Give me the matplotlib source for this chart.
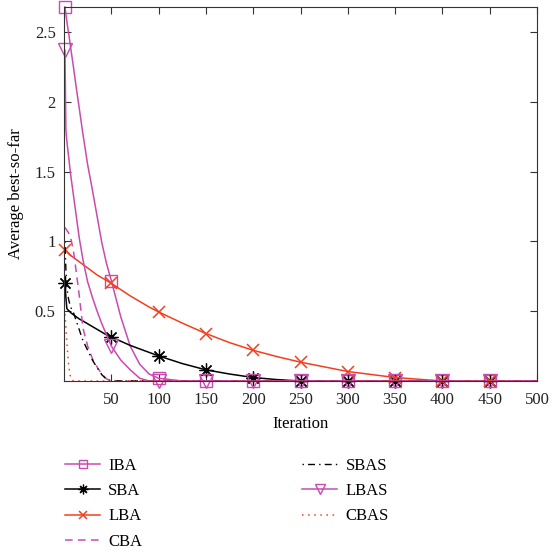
import matplotlib
matplotlib.use("Agg")
import matplotlib.pyplot as plt
import numpy as np

plt.rcParams['font.family'] = ['Liberation Serif', 'DejaVu Serif']
plt.rcParams['font.size'] = 12

# iteration grid shared by all curves
iters = [1, 2, 3, 4, 5, 7, 10, 13, 16, 20, 25, 30, 35, 40, 45, 50, 60, 70, 80, 90,
         100, 125, 150, 175, 200, 225, 250, 300, 350, 400, 450, 500]

iba = [2.68, 2.63, 2.58, 2.53, 2.49, 2.39, 2.25, 2.10, 1.96, 1.77, 1.55, 1.37, 1.18, 0.99,
       0.84, 0.72, 0.46, 0.25, 0.12, 0.05, 0.02, 0, 0, 0, 0, 0, 0, 0, 0, 0, 0, 0]
sba = [0.70, 0.60, 0.52, 0.51, 0.505, 0.49, 0.475, 0.46, 0.445, 0.43, 0.41, 0.39, 0.37,
       0.35, 0.33, 0.315, 0.285, 0.255, 0.23, 0.205, 0.18, 0.125, 0.08, 0.05, 0.025,
       0.01, 0, 0, 0, 0, 0, 0]
lba = [0.94, 0.935, 0.93, 0.92, 0.915, 0.90, 0.885, 0.87, 0.855, 0.835, 0.81, 0.785,
       0.76, 0.74, 0.72, 0.70, 0.655, 0.61, 0.57, 0.53, 0.495, 0.415, 0.34, 0.275,
       0.22, 0.175, 0.135, 0.068, 0.025, 0.0, 0, 0]
cba = [1.10, 1.09, 1.08, 1.07, 1.06, 1.03, 0.93, 0.78, 0.62, 0.38, 0.25, 0.16, 0.10,
       0.05, 0.015, 0, 0, 0, 0, 0, 0, 0, 0, 0, 0, 0, 0, 0, 0, 0, 0, 0]
sbas = [1.0, 0.80, 0.68, 0.62, 0.58, 0.53, 0.49, 0.43, 0.37, 0.29, 0.22, 0.15, 0.095,
        0.045, 0.012, 0, 0, 0, 0, 0, 0, 0, 0, 0, 0, 0, 0, 0, 0, 0, 0, 0]
lbas = [2.37, 1.80, 1.72, 1.66, 1.60, 1.48, 1.33, 1.18, 1.03, 0.87, 0.71, 0.60, 0.50,
        0.41, 0.33, 0.25, 0.15, 0.08, 0.02, 0, 0, 0, 0, 0, 0, 0, 0, 0, 0, 0, 0, 0]
cbas = [0.48, 0.38, 0.28, 0.19, 0.11, 0.02, 0, 0, 0, 0, 0, 0, 0, 0, 0, 0, 0, 0, 0, 0,
        0, 0, 0, 0, 0, 0, 0, 0, 0, 0, 0, 0]

marker_iters = [1, 50, 100, 150, 200, 250, 300, 350, 400, 450]
mark_idx = [iters.index(m) for m in marker_iters]

magenta = '#C84BB0'
red = '#F2401F'

fig = plt.figure(figsize=(5.52, 5.54), dpi=100)
ax = fig.add_axes([64 / 552, 173 / 554, 473 / 552, 374 / 554])

ax.plot(iters, iba, color=magenta, lw=1.1, marker='s', ms=8, mfc='none',
        markevery=mark_idx, clip_on=False, label='IBA')
ax.plot(iters, sba, color='black', lw=1.1, marker=(8, 2, 0), ms=10, mew=0.9,
        markevery=mark_idx, clip_on=False, label='SBA')
ax.plot(iters, lba, color=red, lw=1.1, marker='x', ms=8, mew=1.1,
        markevery=mark_idx, clip_on=False, label='LBA')
ax.plot(iters, cba, color=magenta, lw=1.1, ls=(0, (5, 3.5)), label='CBA')
ax.plot(iters, sbas, color='black', lw=1.0, ls=(0, (1, 3, 5, 3)), label='SBAS')
ax.plot(iters, lbas, color=magenta, lw=1.1, marker='v', ms=10, mfc='none',
        markevery=mark_idx, clip_on=False, label='LBAS')
ax.plot(iters, cbas, color=red, lw=1.1, ls=(0, (1, 3)), label='CBAS')

ax.set_xlim(0, 500)
ax.set_ylim(0, 2.68)
ax.set_xticks([50, 100, 150, 200, 250, 300, 350, 400, 450, 500])
ax.set_yticks([0.5, 1, 1.5, 2, 2.5])
ax.set_yticklabels(['0.5', '1', '1.5', '2', '2.5'])
ax.tick_params(direction='in', top=True, right=True, length=5, labelsize=12,
               colors='#333333', labelcolor='#222222')
ax.tick_params(axis='x', pad=8)
ax.tick_params(axis='y', pad=6)
for s in ax.spines.values():
    s.set_color('#333333')
ax.set_xlabel('Iteration', fontsize=12, labelpad=6)
ax.set_ylabel('Average best-so-far', fontsize=12, labelpad=8)

fig.legend(loc='upper left', bbox_to_anchor=(50 / 552, 1 - 443 / 554), ncol=2,
           frameon=False, fontsize=12, handlelength=2.1, handletextpad=0.5,
           labelspacing=0.55, columnspacing=9.6, markerscale=0.7)

fig.savefig('out.png', dpi=100)
